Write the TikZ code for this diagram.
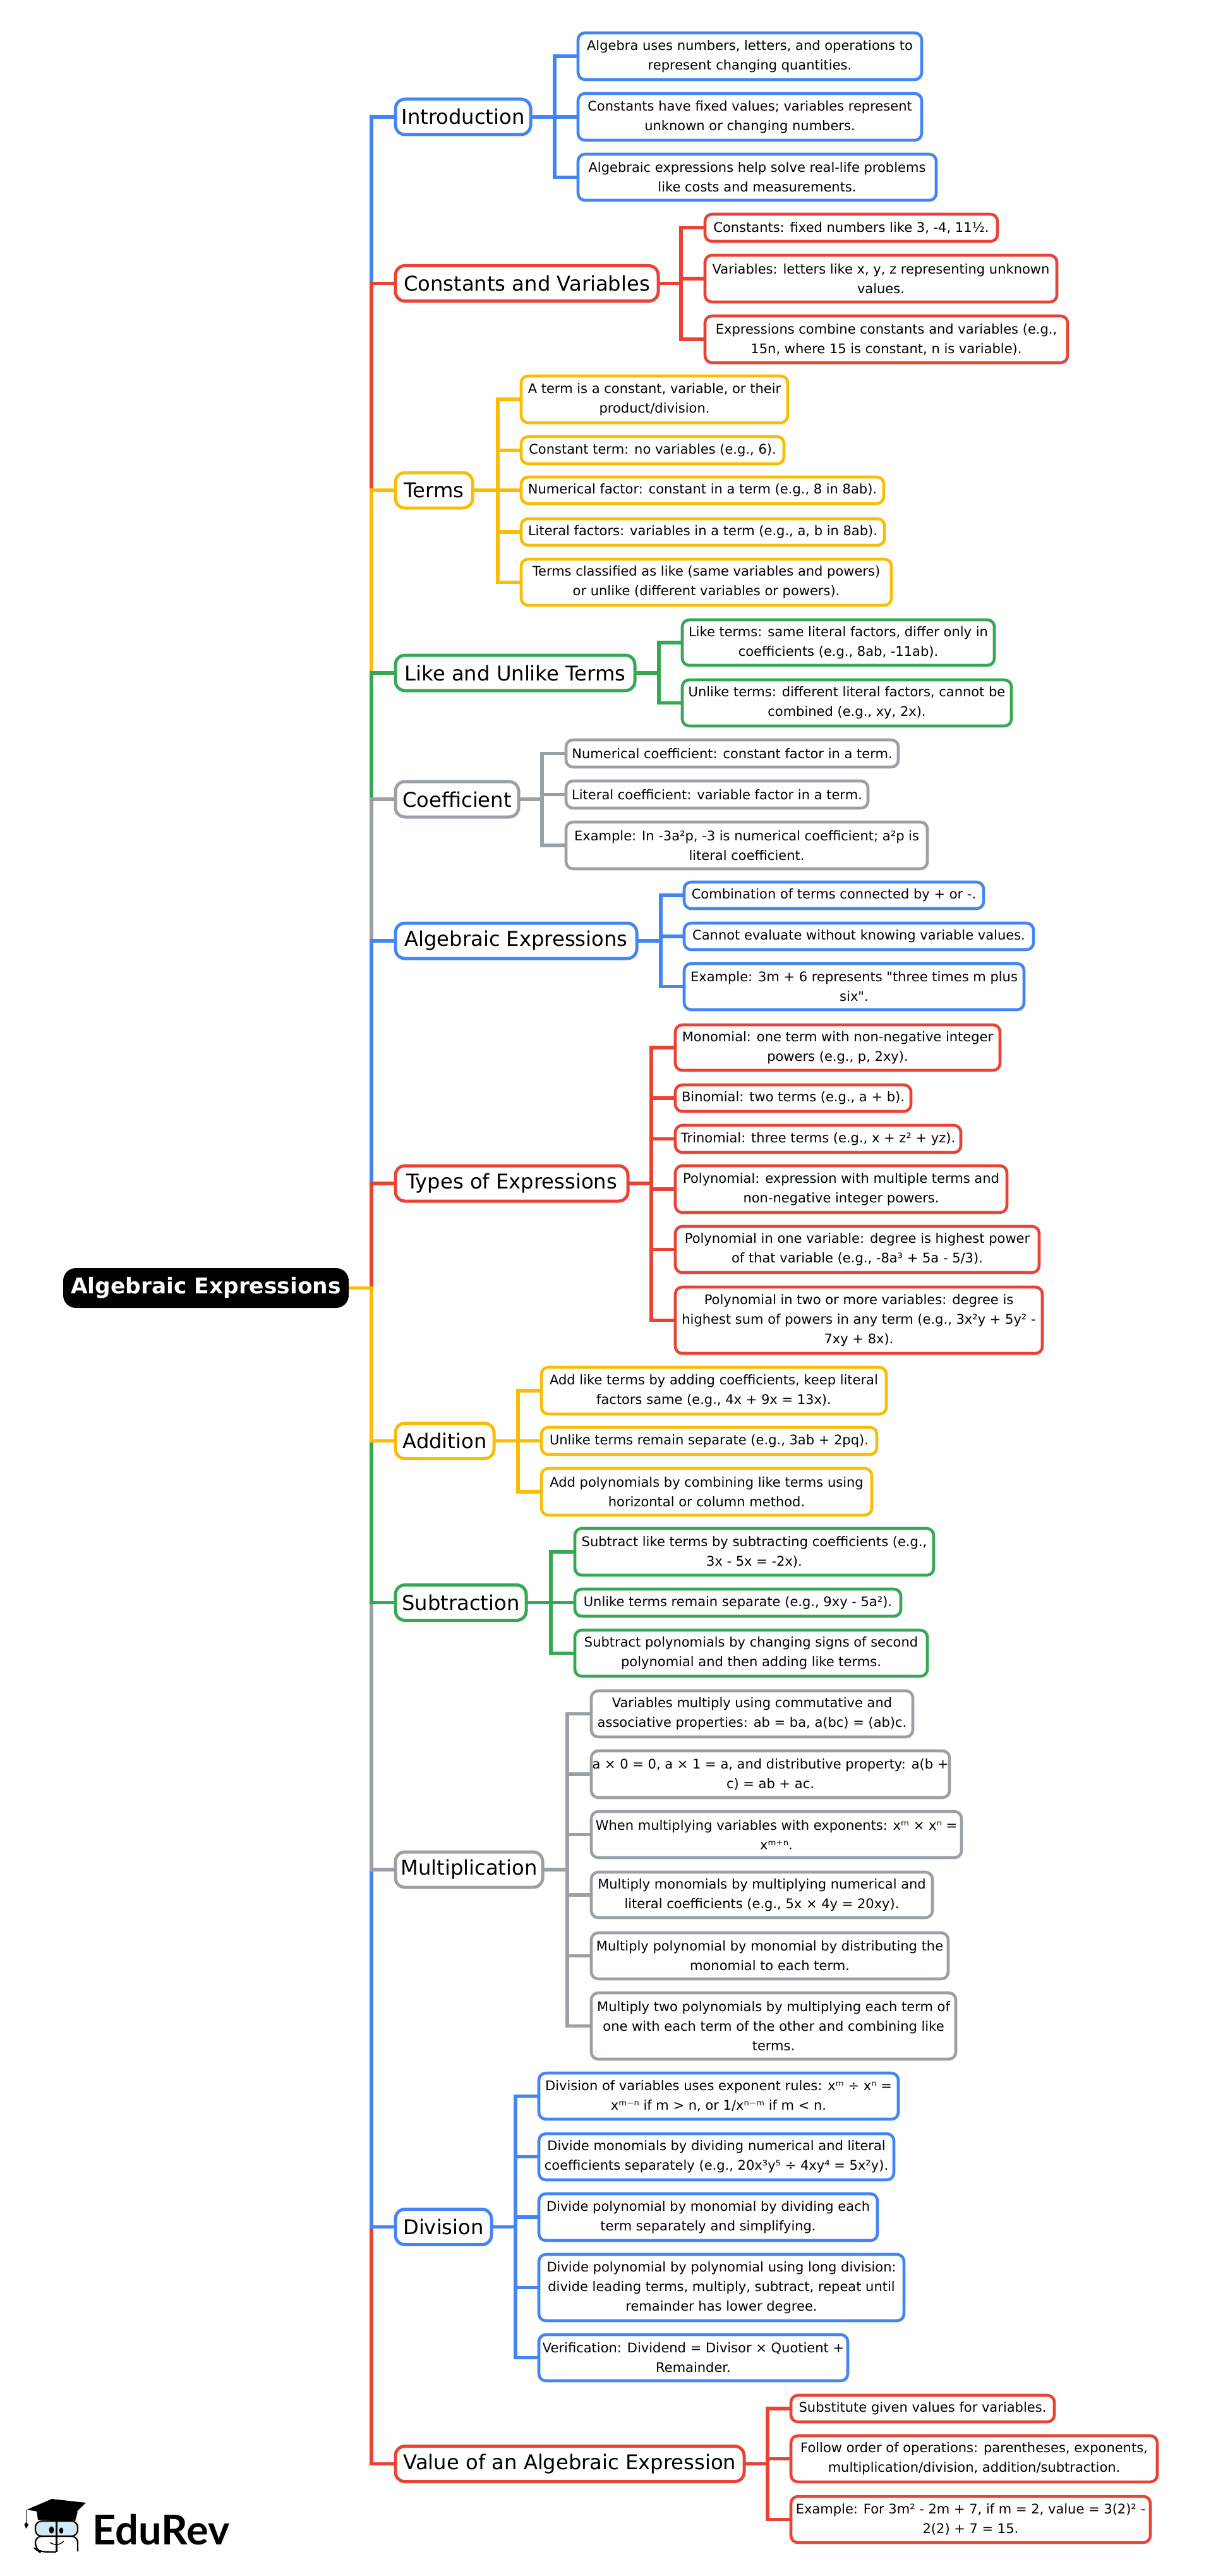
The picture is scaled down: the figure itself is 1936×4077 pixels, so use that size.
\documentclass[tikz,border=0pt]{standalone}
\usepackage{fontspec}
\setmainfont{DejaVu Sans}
\newfontfamily\plainfont{DejaVu Sans}
\newfontfamily\logofont{Lato}
\definecolor{mapblue}{HTML}{4285F4}
\definecolor{mapred}{HTML}{EA4335}
\definecolor{mapyellow}{HTML}{FBBC04}
\definecolor{mapgreen}{HTML}{34A853}
\definecolor{mapgray}{HTML}{9AA0A6}
\definecolor{glass}{HTML}{D4E9F7}
\tikzset{
  link/.style={line width=2.8pt,line join=miter},
  topic/.style={fill=white,line width=2.5pt,rounded corners=7.5pt,inner sep=0pt,outer sep=0pt,minimum height=28pt,font=\fontsize{16.1}{20}\selectfont},
  leaf/.style={fill=white,line width=2.3pt,rounded corners=5.5pt,inner sep=0pt,outer sep=0pt,align=center,font=\fontsize{10.5}{15.5}\selectfont},
}
\begin{document}
\begin{tikzpicture}[x=0.5pt,y=-0.5pt]
  \useasboundingbox (0,0) rectangle (1936,4077);

  % root
  \node[fill=black,rounded corners=10pt,text=white,inner sep=0pt,outer sep=0pt,
        font=\fontsize{17.2}{20}\selectfont\bfseries,minimum width=226pt,minimum height=31.5pt] (root) at (326,2038.5) {Algebraic Expressions};

  % topics
  \node[topic,draw=mapblue,minimum width=107pt] (intro) at (733,185) {Introduction};
  \node[topic,draw=mapred,minimum width=208pt] (convar) at (834,448.5) {Constants and Variables};
  \node[topic,draw=mapyellow,minimum width=61pt] (terms) at (687,776) {Terms};
  \node[topic,draw=mapgreen,minimum width=189.5pt] (likeun) at (815.5,1065) {Like and Unlike Terms};
  \node[topic,draw=mapgray,minimum width=97.5pt] (coeff) at (723.5,1265) {Coefficient};
  \node[topic,draw=mapblue,minimum width=191pt] (algexp) at (817,1489) {Algebraic Expressions};
  \node[topic,draw=mapred,minimum width=184pt] (types) at (810,1873) {Types of Expressions};
  \node[topic,draw=mapyellow,minimum width=78pt] (addit) at (704,2280.5) {Addition};
  \node[topic,draw=mapgreen,minimum width=103.5pt] (subtr) at (729.5,2536.5) {Subtraction};
  \node[topic,draw=mapgray,minimum width=116.5pt] (multi) at (742.5,2959) {Multiplication};
  \node[topic,draw=mapblue,minimum width=76pt] (divis) at (702,3524.5) {Division};
  \node[topic,draw=mapred,minimum width=276pt] (valexp) at (902,3899.5) {Value of an Algebraic Expression};

  % root to topics, the nearer ones over the farther ones
  \foreach \topicname/\topiccol in {intro/mapblue,convar/mapred,terms/mapyellow,likeun/mapgreen,coeff/mapgray,algexp/mapblue,types/mapred,
      valexp/mapred,divis/mapblue,multi/mapgray,subtr/mapgreen,addit/mapyellow}{
    \draw[link,\topiccol] (root.east) -- (588,2038.5) |- (\topicname.west);
  }

  % leaves
  \foreach \leafname/\cx/\cy/\bw/\bh/\leaftext in {
    i1/1187/89/272/38/{Algebra uses numbers, letters, and operations to\\represent changing quantities.},
    i2/1187/185/272/38/{Constants have fixed values; variables represent\\unknown or changing numbers.},
    i3/1198.5/280.5/283.5/37.5/{Algebraic expressions help solve real-life problems\\like costs and measurements.}}{
    \node[leaf,draw=mapblue,minimum width=\bw pt,minimum height=\bh pt-1pt] (\leafname) at (\cx,\cy) {\leaftext};
    \draw[link,mapblue] (intro.east) -- (878,185) |- (\leafname.west);
  }
  \foreach \leafname/\cx/\cy/\bw/\bh/\leaftext in {
    c1/1347.5/360.5/231.5/22.5/{Constants: fixed numbers like 3, -4, 11½.},
    c2/1394.5/441/278.5/38/{Variables: letters like x, y, z representing unknown\\values.},
    c3/1403/537/287/38/{Expressions combine constants and variables (e.g.,\\15n, where 15 is constant, n is variable).}}{
    \node[leaf,draw=mapred,minimum width=\bw pt,minimum height=\bh pt-1pt] (\leafname) at (\cx,\cy) {\leaftext};
    \draw[link,mapred] (convar.east) -- (1078,448.5) |- (\leafname.west);
  }
  \foreach \leafname/\cx/\cy/\bw/\bh/\leaftext in {
    t1/1036/632/211/38/{A term is a constant, variable, or their\\product/division.},
    t2/1033/712.5/208/22.5/{Constant term: no variables (e.g., 6).},
    t3/1112/776/287/22/{Numerical factor: constant in a term (e.g., 8 in 8ab).},
    t4/1112.5/842/287.5/22/{Literal factors: variables in a term (e.g., a, b in 8ab).},
    t5/1118/921.5/293/37.5/{Terms classified as like (same variables and powers)\\or unlike (different variables or powers).}}{
    \node[leaf,draw=mapyellow,minimum width=\bw pt,minimum height=\bh pt-1pt] (\leafname) at (\cx,\cy) {\leaftext};
    \draw[link,mapyellow] (terms.east) -- (788,776) |- (\leafname.west);
  }
  \foreach \leafname/\cx/\cy/\bw/\bh/\leaftext in {
    l1/1327/1017/247/37/{Like terms: same literal factors, differ only in\\coefficients (e.g., 8ab, -11ab).},
    l2/1340.5/1112.5/260.5/37.5/{Unlike terms: different literal factors, cannot be\\combined (e.g., xy, 2x).}}{
    \node[leaf,draw=mapgreen,minimum width=\bw pt,minimum height=\bh pt-1pt] (\leafname) at (\cx,\cy) {\leaftext};
    \draw[link,mapgreen] (likeun.east) -- (1043,1065) |- (\leafname.west);
  }
  \foreach \leafname/\cx/\cy/\bw/\bh/\leaftext in {
    f1/1159/1192.5/263/22.5/{Numerical coefficient: constant factor in a term.},
    f2/1135/1257.5/239/22.5/{Literal coefficient: variable factor in a term.},
    f3/1182/1338/286/38/{Example: In -3a²p, -3 is numerical coefficient; a²p is\\literal coefficient.}}{
    \node[leaf,draw=mapgray,minimum width=\bw pt,minimum height=\bh pt-1pt] (\leafname) at (\cx,\cy) {\leaftext};
    \draw[link,mapgray] (coeff.east) -- (858,1265) |- (\leafname.west);
  }
  \foreach \leafname/\cx/\cy/\bw/\bh/\leaftext in {
    a1/1320/1417/237/22/{Combination of terms connected by + or -.},
    a2/1359.5/1482/276.5/22/{Cannot evaluate without knowing variable values.},
    a3/1352/1561.5/269/37.5/{Example: 3m + 6 represents {\plainfont"}three times m plus\\six{\plainfont"}.}}{
    \node[leaf,draw=mapblue,minimum width=\bw pt,minimum height=\bh pt-1pt] (\leafname) at (\cx,\cy) {\leaftext};
    \draw[link,mapblue] (algexp.east) -- (1046,1489) |- (\leafname.west);
  }
  \foreach \leafname/\cx/\cy/\bw/\bh/\leaftext in {
    y1/1326/1658/257/37/{Monomial: one term with non-negative integer\\powers (e.g., p, 2xy).},
    y2/1255.5/1738/186.5/22/{Binomial: two terms (e.g., a + b).},
    y3/1295/1802.5/226/22.5/{Trinomial: three terms (e.g., x + z² + yz).},
    y4/1331.5/1882/262.5/38/{Polynomial: expression with multiple terms and\\non-negative integer powers.},
    y5/1357/1977.5/288/37.5/{Polynomial in one variable: degree is highest power\\of that variable (e.g., -8a³ + 5a - 5/3).},
    y6/1359.5/2089.5/290.5/53.5/{Polynomial in two or more variables: degree is\\highest sum of powers in any term (e.g., 3x²y + 5y² -\\7xy + 8x).}}{
    \node[leaf,draw=mapred,minimum width=\bw pt,minimum height=\bh pt-1pt] (\leafname) at (\cx,\cy) {\leaftext};
    \draw[link,mapred] (types.east) -- (1031,1873) |- (\leafname.west);
  }
  \foreach \leafname/\cx/\cy/\bw/\bh/\leaftext in {
    d1/1130/2201/273/38/{Add like terms by adding coefficients, keep literal\\factors same (e.g., 4x + 9x = 13x).},
    d2/1122.5/2280.5/265.5/22.5/{Unlike terms remain separate (e.g., 3ab + 2pq).},
    d3/1118.5/2361/261.5/38/{Add polynomials by combining like terms using\\horizontal or column method.}}{
    \node[leaf,draw=mapyellow,minimum width=\bw pt,minimum height=\bh pt-1pt] (\leafname) at (\cx,\cy) {\leaftext};
    \draw[link,mapyellow] (addit.east) -- (820,2280.5) |- (\leafname.west);
  }
  \foreach \leafname/\cx/\cy/\bw/\bh/\leaftext in {
    s1/1194/2456/284/38/{Subtract like terms by subtracting coefficients (e.g.,\\3x - 5x = -2x).},
    s2/1168/2536.5/258/22.5/{Unlike terms remain separate (e.g., 9xy - 5a²).},
    s3/1189/2616.5/279/37.5/{Subtract polynomials by changing signs of second\\polynomial and then adding like terms.}}{
    \node[leaf,draw=mapgreen,minimum width=\bw pt,minimum height=\bh pt-1pt] (\leafname) at (\cx,\cy) {\leaftext};
    \draw[link,mapgreen] (subtr.east) -- (872,2536.5) |- (\leafname.west);
  }
  \foreach \leafname/\cx/\cy/\bw/\bh/\leaftext in {
    m1/1190.5/2712.5/254.5/37.5/{Variables multiply using commutative and\\associative properties: ab = ba, a(bc) = (ab)c.},
    m2/1219.5/2808/283.5/38/{a × 0 = 0, a × 1 = a, and distributive property: a(b +\\c) = ab + ac.},
    m3/1229/2903.5/293/37.5/{When multiplying variables with exponents: xᵐ × xⁿ =\\xᵐ⁺ⁿ.},
    m4/1206/2999/270/37/{Multiply monomials by multiplying numerical and\\literal coefficients (e.g., 5x × 4y = 20xy).},
    m5/1218.5/3095.5/282.5/37.5/{Multiply polynomial by monomial by distributing the\\monomial to each term.},
    m6/1224.5/3206.5/288.5/53.5/{Multiply two polynomials by multiplying each term of\\one with each term of the other and combining like\\terms.}}{
    \node[leaf,draw=mapgray,minimum width=\bw pt,minimum height=\bh pt-1pt] (\leafname) at (\cx,\cy) {\leaftext};
    \draw[link,mapgray] (multi.east) -- (898,2959) |- (\leafname.west);
  }
  \foreach \leafname/\cx/\cy/\bw/\bh/\leaftext in {
    v1/1137.5/3317.5/284.5/37.5/{Division of variables uses exponent rules: xᵐ ÷ xⁿ =\\xᵐ⁻ⁿ if m > n, or 1/xⁿ⁻ᵐ if m < n.},
    v2/1134/3413.5/281/37.5/{Divide monomials by dividing numerical and literal\\coefficients separately (e.g., 20x³y⁵ ÷ 4xy⁴ = 5x²y).},
    v3/1121/3509/268/38/{Divide polynomial by monomial by dividing each\\term separately and simplifying.},
    v4/1142/3620.5/289/53.5/{Divide polynomial by polynomial using long division:\\divide leading terms, multiply, subtract, repeat until\\remainder has lower degree.},
    v5/1097.5/3731.5/244.5/37.5/{Verification: Dividend = Divisor × Quotient +\\Remainder.}}{
    \node[leaf,draw=mapblue,minimum width=\bw pt,minimum height=\bh pt-1pt] (\leafname) at (\cx,\cy) {\leaftext};
    \draw[link,mapblue] (divis.east) -- (816,3524.5) |- (\leafname.west);
  }
  \foreach \leafname/\cx/\cy/\bw/\bh/\leaftext in {
    e1/1460.5/3812/208.5/22/{Substitute given values for variables.},
    e2/1542/3891.5/290/37.5/{Follow order of operations: parentheses, exponents,\\multiplication/division, addition/subtraction.},
    e3/1536.5/3987.5/284.5/37.5/{Example: For 3m² - 2m + 7, if m = 2, value = 3(2)² -\\2(2) + 7 = 15.}}{
    \node[leaf,draw=mapred,minimum width=\bw pt,minimum height=\bh pt-1pt] (\leafname) at (\cx,\cy) {\leaftext};
    \draw[link,mapred] (valexp.east) -- (1215,3899.5) |- (\leafname.west);
  }

  % logo
  \fill (58,3973) -- (60,3988) -- (119,3990) -- (123,3975) -- cycle;
  \fill (42.5,3972) -- (82,3955) -- (136,3961) -- (112,3984) -- cycle;
  \draw[line width=0.7pt] (41.5,3972) -- (41.5,3992);
  \fill (41.5,3991) -- (45,3996) -- (41.5,4002) -- (38.5,3996) -- cycle;
  \draw[black,fill=glass,line width=1.1pt,rounded corners=5pt] (56,3990) rectangle (123,4014);
  \draw[black,line width=1.1pt,rounded corners=5pt] (89,4039) -- (62,4038.5) -- (56,4034) -- (56,4014) -- (123,4014) -- (123,4038);
  \draw[black,line width=1.1pt] (89.5,3989) -- (89.5,4039);
  \fill (81.5,4004) ellipse [x radius=4,y radius=5.6];
  \fill (97,4005) ellipse [x radius=3.4,y radius=4.8];
  \draw[line width=0.7pt] (79,4024) .. controls (88,4029) and (94,4028) .. (101,4022);
  \draw[line width=0.6pt] (69,3985) .. controls (74,3979) and (80,3979) .. (85,3983);
  \draw[line width=0.6pt] (94,3984) .. controls (98,3982) and (102,3982) .. (105,3985);
  \node[inner sep=0pt,anchor=base west,font=\logofont\bfseries\fontsize{32.5}{36}\selectfont] (logotext) at (146,4027) {EduRev};
\end{tikzpicture}
\end{document}
